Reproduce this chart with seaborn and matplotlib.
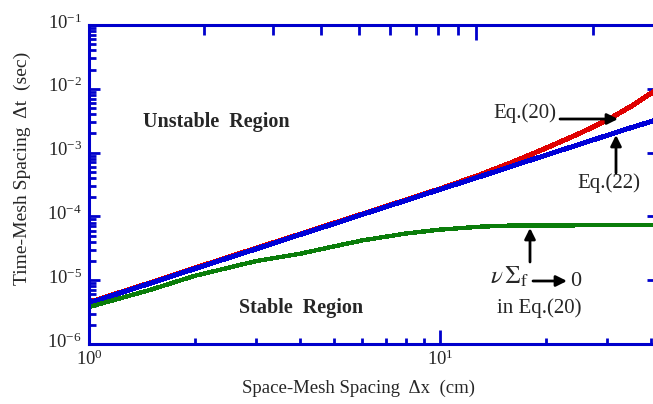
import numpy as np
import pandas as pd
import matplotlib
matplotlib.use('Agg')
import matplotlib.pyplot as plt
import matplotlib.transforms as mtrans
import seaborn as sns
from matplotlib.ticker import LogLocator, NullFormatter

# values
dx = [1, 1.5, 2, 3, 4, 5, 6, 8, 10, 13, 16, 20, 25, 30, 35, 41.8]
dt_eq22 = [4.4e-6, 9.0e-6, 1.51e-5, 3.1e-5, 5.2e-5, 7.7e-5, 1.07e-4, 1.78e-4,
           2.65e-4, 4.2e-4, 6.1e-4, 9.1e-4, 1.35e-3, 1.87e-3, 2.46e-3, 3.3e-3]
dt_eq20 = [4.5e-6, 9.2e-6, 1.55e-5, 3.2e-5, 5.3e-5, 7.9e-5, 1.09e-4, 1.82e-4,
           2.71e-4, 4.5e-4, 7.0e-4, 1.17e-3, 2.0e-3, 3.25e-3, 5.3e-3, 1.0e-2]
dt_nosigf = [3.8e-6, 7.1e-6, 1.17e-5, 2.0e-5, 2.6e-5, 3.4e-5, 4.2e-5, 5.4e-5,
             6.2e-5, 6.9e-5, 7.2e-5, 7.2e-5, 7.25e-5, 7.25e-5, 7.3e-5, 7.3e-5]

df = pd.DataFrame({'dx': dx, 'eq20': dt_eq20, 'eq22': dt_eq22, 'nosigf': dt_nosigf})

sns.set_style('ticks')
plt.rcParams['font.family'] = ['Liberation Serif', 'DejaVu Serif']
plt.rcParams['mathtext.fontset'] = 'stix'

W, H = 653, 404
fig = plt.figure(figsize=(W / 100, H / 100), dpi=100)
ax = fig.add_axes([89 / W, 60 / H, 569 / W, 319 / H])

axis_blue = '#0000cc'

sns.lineplot(x='dx', y='eq20', data=df, ax=ax, color='#e00000', lw=2.8, antialiased=False)
sns.lineplot(x='dx', y='eq22', data=df, ax=ax, color='#0000d8', lw=2.8, antialiased=False)
sns.lineplot(x='dx', y='nosigf', data=df, ax=ax, color='#0a7d0a', lw=2.4, antialiased=False)

ax.set_xscale('log')
ax.set_yscale('log')
ax.set_xlim(1, 41.8)
ax.set_ylim(1e-6, 1e-1)
ax.set_xlabel('')
ax.set_ylabel('')

ax.yaxis.set_major_locator(LogLocator(base=10, numticks=10))
ax.yaxis.set_minor_locator(LogLocator(base=10, subs=np.arange(2, 10), numticks=20))
ax.xaxis.set_minor_locator(LogLocator(base=10, subs=np.arange(2, 10), numticks=20))
ax.xaxis.set_minor_formatter(NullFormatter())
ax.yaxis.set_minor_formatter(NullFormatter())

for s in ax.spines.values():
    s.set_color(axis_blue)
    s.set_linewidth(2.2)
    s.set_visible(True)

ax.tick_params(axis='y', which='major', direction='in', length=8, width=2, color=axis_blue,
               left=True, right=True, labelsize=13.5, pad=5)
ax.tick_params(axis='y', which='minor', direction='in', length=5, width=2, color=axis_blue,
               left=True, right=False)
ax.tick_params(axis='x', which='major', direction='in', length=10, width=2, color=axis_blue,
               bottom=True, top=False, labelsize=13.5, pad=4)
ax.tick_params(axis='x', which='minor', direction='in', length=4, width=2, color=axis_blue,
               bottom=True, top=False)

# y tick labels sit a little above their ticks in the reference
lift = mtrans.ScaledTranslation(0, 4 / 100, fig.dpi_scale_trans)
for lbl in ax.get_yticklabels():
    lbl.set_transform(lbl.get_transform() + lift)

# top axis ticks sit on their own scale in the reference
ax2 = ax.twiny()
ax2.set_xscale('log')
ax2.set_xlim(1.012, 29.4)
ax2.xaxis.set_minor_locator(LogLocator(base=10, subs=np.arange(2, 10), numticks=20))
ax2.xaxis.set_major_formatter(NullFormatter())
ax2.xaxis.set_minor_formatter(NullFormatter())
ax2.tick_params(axis='x', which='major', direction='in', length=11, width=2, color=axis_blue)
ax2.tick_params(axis='x', which='minor', direction='in', length=7, width=2, color=axis_blue)
for s in ax2.spines.values():
    s.set_visible(False)


def fp(px, py):
    return (px / W, 1 - py / H)


fig.text(*fp(22, 168), 'Time-Mesh Spacing  \u0394t  (sec)', rotation=90,
         ha='center', va='center', fontsize=14)
fig.text(*fp(358, 388), 'Space-Mesh Spacing  \u0394x  (cm)', ha='center', va='center', fontsize=13.5)

fig.text(*fp(216, 122), 'Unstable  Region', ha='center', va='center', fontsize=14.5, fontweight='bold')
fig.text(*fp(301, 308), 'Stable  Region', ha='center', va='center', fontsize=14.5, fontweight='bold')

arrow = dict(arrowstyle='-|>', lw=2, color='k', mutation_scale=16, shrinkA=0, shrinkB=0)
fig.text(*fp(525, 113), 'Eq.(20)', ha='center', va='center', fontsize=15)
ax.annotate('', xy=fp(618, 119), xytext=fp(560, 119), xycoords='figure fraction',
            textcoords='figure fraction', arrowprops=arrow)
fig.text(*fp(609, 183), 'Eq.(22)', ha='center', va='center', fontsize=15)
ax.annotate('', xy=fp(616, 135), xytext=fp(616, 173), xycoords='figure fraction',
            textcoords='figure fraction', arrowprops=arrow)

ax.annotate('', xy=fp(530, 228), xytext=fp(530, 262), xycoords='figure fraction',
            textcoords='figure fraction', arrowprops=arrow)
fig.text(*fp(510, 277), r'$\nu\,\Sigma_{\mathrm{f}}$', ha='center', va='center', fontsize=18)
ax.annotate('', xy=fp(567, 281), xytext=fp(533, 281), xycoords='figure fraction',
            textcoords='figure fraction', arrowprops=arrow)
fig.text(*fp(576, 281), '0', ha='center', va='center', fontsize=16)
fig.text(*fp(539, 308), 'in Eq.(20)', ha='center', va='center', fontsize=15)

fig.savefig('out.png', dpi=100)
